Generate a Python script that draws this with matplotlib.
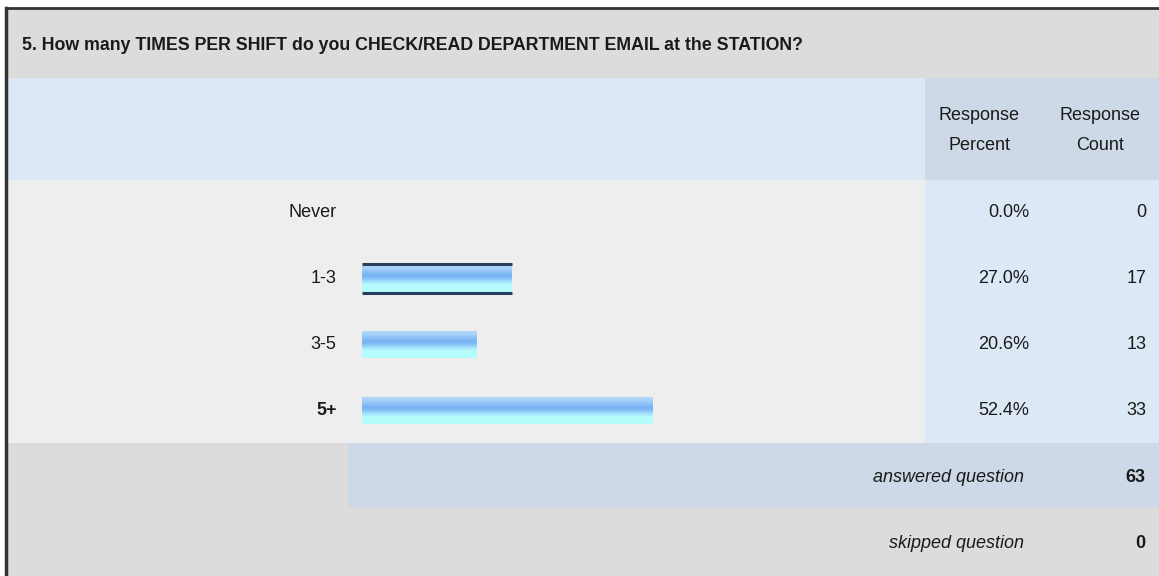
import numpy as np
import matplotlib.pyplot as plt
from matplotlib.patches import Rectangle

plt.rcParams['font.family'] = ['Liberation Sans', 'DejaVu Sans']

# survey data
question = "5. How many TIMES PER SHIFT do you CHECK/READ DEPARTMENT EMAIL at the STATION?"
choices = ['Never', '1-3', '3-5', '5+']
percents = [0.0, 27.0, 20.6, 52.4]
counts = [0, 17, 13, 33]
answered = 63
skipped = 0

W, H = 1159, 576
fig = plt.figure(figsize=(W / 100, H / 100), dpi=100)
bg = fig.add_axes([0, 0, 1, 1])
bg.set_xlim(0, W)
bg.set_ylim(H, 0)
bg.axis('off')

def cell(x0, y0, x1, y1, color):
    bg.add_patch(Rectangle((x0, y0), x1 - x0, y1 - y0, facecolor=color, edgecolor='none', zorder=0))

grey = '#dcdcdc'
body = '#eeeeee'
lblue = '#dce8f5'
dblue = '#cdd9e6'
txt = '#1a1a1a'
colx = 925
fs = 13

cell(0, 0, W, H, 'white')
cell(6, 9, W, 78, grey)
cell(6, 78, colx, 180, lblue)
cell(colx, 78, W, 180, dblue)
cell(6, 180, colx, 443, body)
cell(colx, 180, W, 443, lblue)
cell(6, 443, 348, 507, grey)
cell(348, 443, W, 507, dblue)
cell(6, 507, W, H, grey)
bg.plot([6, W], [8, 8], color='#333333', lw=2, zorder=2)
bg.plot([6, 6], [8, H], color='#333333', lw=2.5, zorder=2)

bg.text(22, 46, question, fontsize=12.8, fontweight='bold', color=txt, va='center', ha='left')
for x, lbl in [(979, 'Response\nPercent'), (1100, 'Response\nCount')]:
    bg.text(x, 131, lbl, fontsize=fs, color=txt, ha='center', va='center', linespacing=2.0)

# bar axes: rows span y 179-444 px, 0-100 % across 555 px starting at x=362
x0, x1 = 362, 362 + 555
y_top, y_bot = 179, 444
ax = fig.add_axes([x0 / W, 1 - y_bot / H, (x1 - x0) / W, (y_bot - y_top) / H])
ax.axis('off')
ax.patch.set_alpha(0)

grad = np.array([[0.68, 0.84, 0.98], [0.62, 0.80, 0.97], [0.54, 0.75, 0.96],
                 [0.47, 0.70, 0.95], [0.53, 0.76, 0.97], [0.64, 0.88, 0.99],
                 [0.71, 0.98, 0.99], [0.71, 0.99, 0.99], [0.71, 0.99, 0.99]]).reshape(-1, 1, 3)
bh = 0.40
for i, (c, p, n) in enumerate(zip(choices, percents, counts)):
    w = 'bold' if c == '5+' else 'normal'
    ax.text(-4.6, i, c, fontsize=fs, ha='right', va='center', color=txt, fontweight=w, clip_on=False)
    ax.text(120.2, i, f'{p:.1f}%', fontsize=fs, ha='right', va='center', color=txt, clip_on=False)
    ax.text(141.3, i, str(n), fontsize=fs, ha='right', va='center', color=txt, clip_on=False)
    if p <= 0:
        continue
    ax.imshow(grad, extent=(0, p, i + bh / 2, i - bh / 2), aspect='auto', interpolation='bilinear', zorder=1)
    if c == '1-3':
        for yy in (i - bh / 2 - 0.015, i + bh / 2 + 0.015):
            ax.plot([0, p], [yy, yy], color='#2b3f5c', lw=2.2, zorder=2, solid_capstyle='butt')
ax.set_xlim(0, 100)
ax.set_ylim(len(choices) - 0.5, -0.5)

bg.text(1024, 477, 'answered question', fontsize=fs, style='italic', ha='right', va='center', color=txt)
bg.text(1145, 477, str(answered), fontsize=fs, fontweight='bold', ha='right', va='center', color=txt)
bg.text(1024, 543, 'skipped question', fontsize=fs, style='italic', ha='right', va='center', color=txt)
bg.text(1145, 543, str(skipped), fontsize=fs, fontweight='bold', ha='right', va='center', color=txt)

fig.savefig('out.png', dpi=100)
